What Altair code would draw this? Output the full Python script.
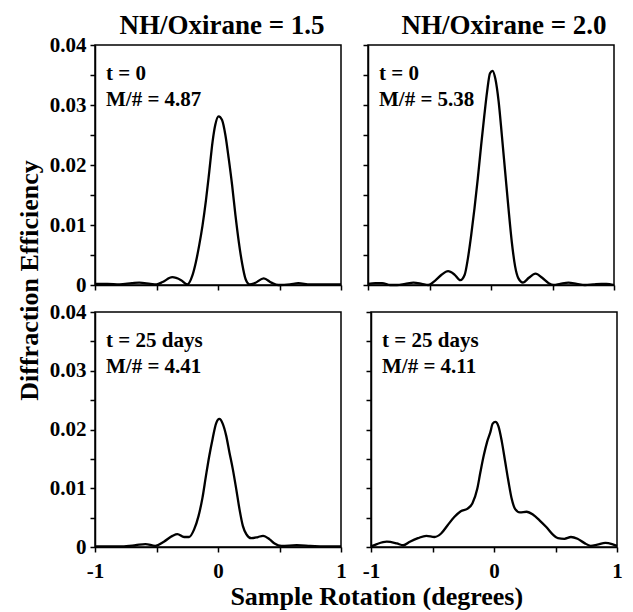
import altair as alt
import pandas as pd

FONT = "Liberation Serif"

# Top-left: NH/Oxirane = 1.5, t = 0
xa = [-1.0, -0.9, -0.8, -0.7, -0.64, -0.55, -0.5, -0.45, -0.372, -0.3,
      -0.25, -0.208, -0.18, -0.153, -0.126, -0.098, -0.071, -0.044, -0.022, 0.005,
      0.033, 0.06, 0.087, 0.115, 0.142, 0.169, 0.197, 0.224, 0.257, 0.298,
      0.372, 0.434, 0.49, 0.585, 0.653, 0.749, 0.858, 1.0]
ya = [0.0002, 0.0002, 0.0001, 0.0003, 0.0004, 0.0002, 0.0001, 0.0005, 0.0013, 0.0008,
      0.0001, 0.0016, 0.0038, 0.0066, 0.0099, 0.0141, 0.0189, 0.0239, 0.0267, 0.0281,
      0.0275, 0.0250, 0.0211, 0.0166, 0.0116, 0.0072, 0.0035, 0.0010, 0.0001, 0.0003,
      0.0011, 0.0004, 0.0, 0.0001, 0.0003, 0.0001, 0.0001, 0.0001]

# Top-right: NH/Oxirane = 2.0, t = 0
xb = [-1.0, -0.94, -0.885, -0.818, -0.764, -0.697, -0.63, -0.563, -0.51, -0.456,
      -0.402, -0.349, -0.295, -0.249, -0.214, -0.188, -0.161, -0.134, -0.107, -0.080,
      -0.054, -0.032, -0.008, 0.013, 0.035, 0.062, 0.088, 0.115, 0.142, 0.169,
      0.196, 0.223, 0.260, 0.308, 0.362, 0.416, 0.469, 0.509, 0.563, 0.630,
      0.697, 0.764, 0.831, 0.898, 0.938, 1.0]
yb = [0.0002, 0.0003, 0.0003, 0.0, 0.0, 0.0002, 0.0004, 0.0002, 0.0, 0.0007,
      0.0017, 0.0023, 0.0017, 0.0008, 0.0017, 0.0044, 0.0083, 0.0128, 0.0178, 0.0233,
      0.0283, 0.0322, 0.0353, 0.0357, 0.0344, 0.0306, 0.0250, 0.0189, 0.0128, 0.0072,
      0.0031, 0.0011, 0.0004, 0.0012, 0.0019, 0.0012, 0.0003, 0.0, 0.0002, 0.0004,
      0.0002, 0.0, 0.0001, 0.0002, 0.0002, 0.0]

# Bottom-left: NH/Oxirane = 1.5, t = 25 days
xc = [-1.0, -0.89, -0.78, -0.67, -0.59, -0.51, -0.44, -0.37, -0.33, -0.276,
      -0.235, -0.194, -0.158, -0.126, -0.098, -0.071, -0.044, -0.016, 0.011, 0.038,
      0.066, 0.093, 0.12, 0.148, 0.175, 0.202, 0.23, 0.27, 0.325, 0.366,
      0.42, 0.46, 0.516, 0.64, 0.75, 0.86, 1.0]
yc = [0.0001, 0.0001, 0.0001, 0.0003, 0.0005, 0.0002, 0.0009, 0.0019, 0.0022, 0.0017,
      0.0017, 0.0030, 0.0053, 0.0084, 0.0121, 0.0155, 0.0184, 0.0210, 0.0218, 0.0210,
      0.0190, 0.0161, 0.0133, 0.0099, 0.0064, 0.0036, 0.0022, 0.0015, 0.0017, 0.0019,
      0.0013, 0.0006, 0.0002, 0.0003, 0.0002, 0.0001, 0.0001]

# Bottom-right: NH/Oxirane = 2.0, t = 25 days
xd = [-1.0, -0.952, -0.872, -0.79, -0.738, -0.684, -0.618, -0.55, -0.484, -0.43,
      -0.377, -0.323, -0.27, -0.217, -0.176, -0.136, -0.11, -0.083, -0.056, -0.029,
      -0.011, 0.011, 0.037, 0.064, 0.091, 0.118, 0.144, 0.171, 0.211, 0.265,
      0.318, 0.372, 0.425, 0.479, 0.519, 0.572, 0.626, 0.679, 0.733, 0.786,
      0.84, 0.906, 0.96, 1.0]
yd = [0.0001, 0.0005, 0.0009, 0.0006, 0.0003, 0.0009, 0.0015, 0.0019, 0.0017, 0.0023,
      0.0037, 0.0051, 0.0061, 0.0065, 0.0074, 0.0099, 0.0128, 0.0156, 0.0179, 0.0196,
      0.0210, 0.0213, 0.0205, 0.0179, 0.0145, 0.0111, 0.0082, 0.0065, 0.0059, 0.0060,
      0.0055, 0.0045, 0.0034, 0.0021, 0.0015, 0.0014, 0.0017, 0.0014, 0.0007, 0.0002,
      0.0004, 0.0007, 0.0005, 0.0002]

col_titles = ["NH/Oxirane = 1.5", "NH/Oxirane = 2.0"]
notes = [["t = 0", "M/# = 4.87"], ["t = 0", "M/# = 5.38"],
         ["t = 25 days", "M/# = 4.41"], ["t = 25 days", "M/# = 4.11"]]
x_ticks = [-1, -0.5, 0, 0.5, 1]
y_ticks = [0, 0.005, 0.01, 0.015, 0.02, 0.025, 0.03, 0.035, 0.04]
y_title = "Diffraction Efficiency"
x_title = "Sample Rotation (degrees)"

X_LABEL_EXPR = "datum.value == -1 ? '-1' : (datum.value == 0 ? '0' : (datum.value == 1 ? '1' : ''))"
Y_LABEL_EXPR = "round(datum.value * 1000) % 10 == 0 ? format(datum.value, '.2~f') : ''"


def panel(xs, ys, note, title=None, title_offset=4, title_dx=0, x_labels=False,
          y_labels=False, height=240, width=246):
    df = pd.DataFrame({"x": xs, "y": ys})
    xaxis = alt.Axis(values=x_ticks, labels=x_labels, labelExpr=X_LABEL_EXPR, title=None,
                     labelPadding=8)
    yaxis = alt.Axis(values=y_ticks, labels=y_labels, labelExpr=Y_LABEL_EXPR, title=None)
    line = alt.Chart(df).mark_line(color="black", strokeWidth=2.3, interpolate="monotone").encode(
        x=alt.X("x:Q", scale=alt.Scale(domain=[-1, 1], nice=False, zero=False), axis=xaxis),
        y=alt.Y("y:Q", scale=alt.Scale(domain=[0, 0.04], nice=False), axis=yaxis),
    )
    layers = [line]
    for i, s in enumerate(note):
        t = alt.Chart(pd.DataFrame({"label": [s]})).mark_text(
            align="left", baseline="alphabetic", font=FONT, fontWeight="bold",
            fontSize=21, color="black",
        ).encode(x=alt.value(11), y=alt.value(35 + 26 * i), text="label:N")
        layers.append(t)
    ch = alt.layer(*layers).properties(width=width, height=height)
    if title:
        ch = ch.properties(title=alt.TitleParams(
            title, font=FONT, fontSize=27, fontWeight="bold", color="black",
            anchor="middle", frame="group", offset=title_offset, dx=title_dx))
    return ch


p11 = panel(xa, ya, notes[0], title=col_titles[0], title_offset=-6, title_dx=4,
            y_labels=True, height=240)
p12 = panel(xb, yb, notes[1], title=col_titles[1], title_offset=4, title_dx=13, height=240)
p21 = panel(xc, yc, notes[2], x_labels=True, y_labels=True, height=235)
p22 = panel(xd, yd, notes[3], x_labels=True, height=235)

row1 = alt.hconcat(p11, p12, spacing=14)
row2 = alt.hconcat(p21, p22, spacing=14)
grid = alt.vconcat(row1, row2, spacing=4).properties(
    title=alt.TitleParams(x_title, orient="bottom", anchor="middle", font=FONT,
                          fontSize=26, fontWeight="bold", color="black", offset=2, dx=41))
chart = alt.hconcat(grid).properties(
    title=alt.TitleParams(y_title, orient="left", anchor="middle", font=FONT,
                          fontSize=26, fontWeight="bold", color="black", offset=6, dx=30)
).configure(padding={"left": 8, "top": 3, "right": 0, "bottom": 0}).configure_view(
    stroke="black", strokeWidth=1.5
).configure_axis(
    grid=False, domainColor="black", domainWidth=1.5, tickColor="black", tickWidth=1.5,
    tickSize=5, labelFont=FONT, labelFontWeight="bold", labelFontSize=21,
    labelColor="black", labelPadding=4, labelFlush=False, labelOverlap=False,
)

chart.save("out.html", embed_options={"renderer": "svg", "actions": False})
